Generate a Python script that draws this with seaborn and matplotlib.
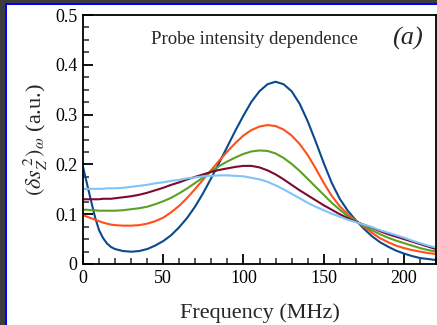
import numpy as np
import pandas as pd
import matplotlib
matplotlib.use("Agg")
import matplotlib.pyplot as plt
from matplotlib.patches import Rectangle
from matplotlib.ticker import MultipleLocator
import seaborn as sns

# Frequency grid (MHz): finer below 20 MHz where the strongest spectrum drops fast
freq = [0, 2.5, 5, 7.5, 10, 12.5, 15, 17.5] + list(range(20, 225, 5))

# Noise spectra for five probe intensities (strongest first)
spec_1 = [0.195, 0.161, 0.127, 0.094, 0.068, 0.052, 0.041, 0.034,
          0.030, 0.026, 0.0247, 0.026, 0.030, 0.037, 0.046, 0.058, 0.074, 0.093,
          0.116, 0.143, 0.173, 0.204, 0.236, 0.268, 0.298, 0.326, 0.347, 0.361,
          0.366, 0.361, 0.347, 0.322, 0.287, 0.246, 0.203, 0.163, 0.131, 0.107,
          0.088, 0.071, 0.056, 0.044, 0.035, 0.027, 0.021, 0.016, 0.012, 0.010,
          0.008]
spec_2 = [0.098, 0.095, 0.092, 0.089, 0.086, 0.083, 0.081, 0.079,
          0.078, 0.077, 0.077, 0.078, 0.081, 0.086, 0.093, 0.104, 0.117, 0.133,
          0.151, 0.170, 0.189, 0.208, 0.226, 0.243, 0.258, 0.269, 0.276, 0.279,
          0.277, 0.270, 0.258, 0.241, 0.219, 0.192, 0.163, 0.137, 0.116, 0.100,
          0.087, 0.075, 0.063, 0.052, 0.044, 0.037, 0.032, 0.028, 0.025, 0.022,
          0.020]
spec_3 = [0.109, 0.109, 0.108, 0.108, 0.107, 0.107, 0.107, 0.107,
          0.107, 0.108, 0.110, 0.112, 0.115, 0.120, 0.126, 0.133, 0.142, 0.152,
          0.163, 0.174, 0.186, 0.197, 0.206, 0.214, 0.221, 0.226, 0.228, 0.227,
          0.222, 0.213, 0.201, 0.187, 0.171, 0.155, 0.139, 0.123, 0.109, 0.096,
          0.086, 0.077, 0.068, 0.060, 0.053, 0.047, 0.042, 0.037, 0.032, 0.028,
          0.025]
spec_4 = [0.130, 0.130, 0.130, 0.130, 0.130, 0.131, 0.131, 0.131,
          0.132, 0.134, 0.136, 0.139, 0.143, 0.148, 0.153, 0.159, 0.164, 0.170,
          0.175, 0.180, 0.185, 0.189, 0.192, 0.195, 0.197, 0.197, 0.194, 0.188,
          0.180, 0.170, 0.159, 0.148, 0.138, 0.128, 0.118, 0.109, 0.100, 0.092,
          0.085, 0.079, 0.073, 0.066, 0.060, 0.055, 0.050, 0.045, 0.040, 0.035,
          0.030]
spec_5 = [0.151, 0.151, 0.151, 0.151, 0.151, 0.151, 0.152, 0.152,
          0.152, 0.153, 0.155, 0.157, 0.159, 0.162, 0.164, 0.167, 0.169, 0.172,
          0.174, 0.176, 0.177, 0.178, 0.178, 0.177, 0.176, 0.173, 0.170, 0.165,
          0.158, 0.150, 0.141, 0.132, 0.123, 0.115, 0.108, 0.101, 0.095, 0.089,
          0.084, 0.079, 0.074, 0.068, 0.063, 0.058, 0.053, 0.047, 0.042, 0.037,
          0.033]

series_names = ["I1", "I2", "I3", "I4", "I5"]
series_values = [spec_1, spec_2, spec_3, spec_4, spec_5]
colors = ["#0a4a8c", "#ff4f1a", "#5ba022", "#7d0a30", "#7ec4fa"]

x_ticks = [0, 50, 100, 150, 200]
x_tick_labels = ["0", "50", "100", "150", "200"]
y_ticks = [0, 0.1, 0.2, 0.3, 0.4, 0.5]
y_tick_labels = ["0", "0.1", "0.2", "0.3", "0.4", "0.5"]

df = pd.DataFrame({
    "freq": freq * len(series_names),
    "value": [v for s in series_values for v in s],
    "series": [n for n in series_names for _ in freq],
})

sns.set_style("ticks")
plt.rcParams["font.family"] = ["Liberation Serif", "DejaVu Serif"]
plt.rcParams["mathtext.fontset"] = "stix"

fig = plt.figure(figsize=(4.37, 3.25), dpi=100)
fig.patch.set_facecolor("white")
fig.patch.set_edgecolor("none")

# frame strips along the top and left edges
fig.patches.append(Rectangle((0, 1 - 3 / 325), 1, 3 / 325, transform=fig.transFigure,
                             facecolor="#3d3d3d", edgecolor="none", zorder=0))
fig.patches.append(Rectangle((0, 0), 5 / 437, 1, transform=fig.transFigure,
                             facecolor="#3d3d3d", edgecolor="none", zorder=0))
fig.patches.append(Rectangle((5 / 437, 1 - 5 / 325), 1, 2 / 325, transform=fig.transFigure,
                             facecolor="#0000ff", edgecolor="none", zorder=0))
fig.patches.append(Rectangle((5 / 437, 0), 2 / 437, 1 - 3 / 325, transform=fig.transFigure,
                             facecolor="#0000ff", edgecolor="none", zorder=0))

ax = fig.add_axes([83 / 437, 1 - 264 / 325, 353 / 437, 249 / 325])

sns.lineplot(data=df, x="freq", y="value", hue="series", palette=colors,
             linewidth=1.5, legend=False, ax=ax)

ax.set_xlim(0, 220)
ax.set_ylim(0, 0.5)
ax.set_xticks(x_ticks)
ax.set_xticklabels(x_tick_labels)
ax.set_yticks(y_ticks)
ax.set_yticklabels(y_tick_labels)
ax.xaxis.set_minor_locator(MultipleLocator(10))
ax.yaxis.set_minor_locator(MultipleLocator(0.025))
ax.tick_params(which="major", direction="in", length=7, width=1.3,
               labelsize=13, colors="black", pad=4)
ax.tick_params(which="minor", direction="in", length=4, width=1.1)
for sp in ax.spines.values():
    sp.set_linewidth(1.3)
    sp.set_color("black")

ax.set_xlabel("Frequency (MHz)", fontsize=16, labelpad=12)
ax.set_ylabel(r"$(\delta s_Z^{\;2})_\omega$ (a.u.)", fontsize=16, labelpad=4)

ax.text(0.487, 0.9, "Probe intensity dependence", transform=ax.transAxes,
        ha="center", va="center", fontsize=13.5)
ax.text(0.92, 0.905, "(a)", transform=ax.transAxes, ha="center", va="center",
        fontsize=19, fontstyle="italic")

fig.savefig("out.png", dpi=100)
